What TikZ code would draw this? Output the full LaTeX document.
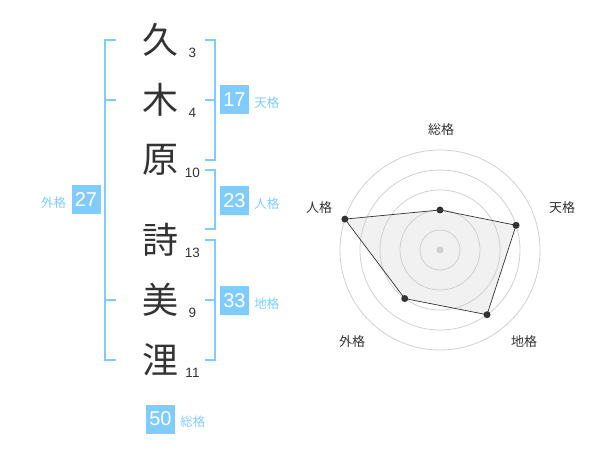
\documentclass[tikz,border=0pt]{standalone}
\usepackage{fontspec}
\setmainfont{Liberation Sans}
\newfontfamily\jp{Noto Sans CJK JP}
\usetikzlibrary{positioning}

\definecolor{sky}{RGB}{128,204,255}
\definecolor{ink}{RGB}{51,51,51}
\definecolor{ring}{RGB}{208,208,208}
\definecolor{area}{RGB}{241,241,241}

\tikzset{
  kanji/.style={font=\jp\fontsize{36}{36}\selectfont, text=ink, inner sep=0pt},
  strokes/.style={font=\fontsize{13.5}{13.5}\selectfont, text=ink, inner sep=0pt},
  kakubox/.style={fill=sky, text=white, font=\fontsize{20}{20}\selectfont,
    minimum size=29pt, inner sep=0pt},
  kakulabel/.style={font=\jp\fontsize{12.5}{12.5}\selectfont, text=sky, inner sep=0pt},
  bracket/.style={draw=sky, line width=2pt},
  radarlabel/.style={font=\jp\fontsize{13}{13}\selectfont, text=ink, inner sep=0pt},
  dot/.style={circle, fill=ink, minimum size=7pt, inner sep=0pt},
}

\begin{document}
\begin{tikzpicture}[x=1pt, y=-1pt]
    \useasboundingbox (0,0) rectangle (600,470);

    % Name:
    % one character per line, stroke count at its lower right
    \foreach \k/\s/\y [count=\i] in {久/3/40, 木/4/100, 原/10/160, 詩/13/240, 美/9/300, 浬/11/360}{%
        \node[kanji] (k\i) at (160,\y) {\k};
        \node[strokes] (s\i) at (192.5,\y+13) {\s};
    }

    % Brackets:
    % outer (left) one
    \draw[bracket] (116,40) -- (105,40) -- (105,360) -- (116,360);
    \draw[bracket] (105,100) -- (116,100);
    \draw[bracket] (105,300) -- (116,300);
    % right ones
    \draw[bracket] (205,40) -- (215,40) -- (215,160) -- (205,160);
    \draw[bracket] (205,100) -- (215,100);
    \draw[bracket] (205,170) -- (215,170) -- (215,229) -- (205,229);
    \draw[bracket] (205,240) -- (215,240) -- (215,360) -- (205,360);
    \draw[bracket] (205,300) -- (215,300);

    % Boxes with their labels
    \node[kakubox] (ten) at (234.5,100) {17};
    \node[kakulabel, right=5pt of ten, yshift=-3pt] (tenl) {天格};
    \node[kakubox] (jin) at (234.5,200.5) {23};
    \node[kakulabel, right=5pt of jin, yshift=-3pt] (jinl) {人格};
    \node[kakubox] (chi) at (234.5,300.5) {33};
    \node[kakulabel, right=5pt of chi, yshift=-3pt] (chil) {地格};
    \node[kakubox] (gai) at (86,200) {27};
    \node[kakulabel, left=5pt of gai, yshift=-3pt] (gail) {外格};
    \node[kakubox] (sou) at (160.5,419) {50};
    \node[kakulabel, right=5pt of sou, yshift=-3pt] (soul) {総格};

    % Radar chart
    \begin{scope}[shift={(440,250)}, y=1pt]
        \coordinate (r0) at (0,0);
        \path (90:40) coordinate (rsou) (18:80) coordinate (rten)
              (-54:80) coordinate (rchi) (-126:60) coordinate (rgai)
              (162:100) coordinate (rjin);
        \fill[area] (rsou) -- (rten) -- (rchi) -- (rgai) -- (rjin) -- cycle;
        \foreach \r in {20,40,...,100}
            \draw[ring, line width=0.8pt] (r0) circle [radius=\r];
        \fill[ring] (r0) circle [radius=3.5];
        \draw[ink, line width=0.7pt] (rsou) -- (rten) -- (rchi) -- (rgai) -- (rjin) -- cycle;
        \foreach \p in {rsou,rten,rchi,rgai,rjin}
            \node[dot] (\p d) at (\p) {};

        \node[radarlabel] (lsou) at (1,120)   {総格};
        \node[radarlabel] (lten) at (122,42)  {天格};
        \node[radarlabel] (lchi) at (84,-92)  {地格};
        \node[radarlabel] (lgai) at (-88,-92) {外格};
        \node[radarlabel] (ljin) at (-121,42) {人格};
    \end{scope}

\end{tikzpicture}
\end{document}
